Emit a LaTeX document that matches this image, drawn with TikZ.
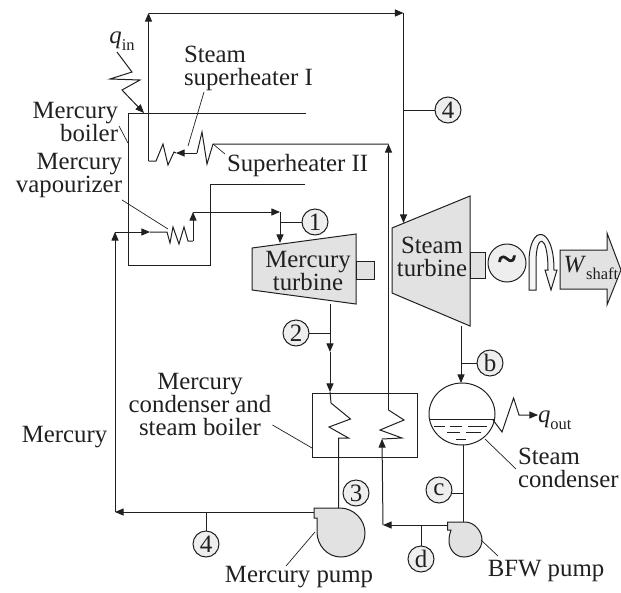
\documentclass[tikz,border=0pt]{standalone}
\usepackage{fontspec}
\setmainfont{Liberation Serif}
\newfontfamily\tildefont[FakeBold=3]{Liberation Serif}
\usepackage{tikz}
\usetikzlibrary{shapes,arrows}
\definecolor{inkGrey}{RGB}{32,32,32}
\definecolor{bodyGrey}{RGB}{226,226,226}
\newcommand{\lowtext}[1]{\raisebox{-0.6ex}{\fontsize{16.5}{16.5}\selectfont #1}}

\begin{document}
\begin{tikzpicture}[x=1pt, y=-1pt, line join=miter]%
  \tikzset{normal arrow/.style={draw,-triangle 45,line width=1pt,inkGrey}}
  \tikzset{normal line/.style={draw,line width=1pt,inkGrey}}
  \tikzset{machine body/.style={draw,line width=1pt,inkGrey,fill=bodyGrey}}
  \tikzset{state mark/.style={draw=inkGrey,fill=bodyGrey!60,circle,line width=1pt,minimum size=26pt,font=\fontsize{25}{25}\selectfont}}
  \tikzstyle{every node}=[draw=none, text=inkGrey, outer sep=0pt, inner sep=0pt, align=center, font=\fontsize{24.8}{23}\selectfont]

  \useasboundingbox (0,0) rectangle (621,592);

  % machines go first so that the lines lie on top
  \path[machine body] (252,248) -- (356,234) -- (356,304) -- (252,290) -- cycle;
  \path[machine body] (356,261) rectangle (374,279);
  \path[machine body] (392,228) -- (470,196) -- (470,326) -- (392,293) -- cycle;
  \path[machine body] (470,252) rectangle (485,278);
  \path[machine body] (314,508) -- (340,508) .. controls (354,508) and (365,520) .. (365,533) .. controls (365,548) and (353,557) .. (341,557) .. controls (327,557) and (317,545) .. (317,532) -- (317,518) -- (314,518) -- cycle;
  \path[machine body] (447.5,522) -- (465,522) .. controls (475,522) and (482,532) .. (482,540) .. controls (482,550) and (473,557) .. (464,557) .. controls (455,557) and (449,549) .. (449,541) .. controls (449,536) and (450,533) .. (451,530) -- (447.5,530) -- cycle;
  \path[machine body] (560,250) -- (607,250) -- (607,233) -- (621,270) -- (607,305) -- (607,289) -- (560,289) -- cycle;
  \path[normal line,fill=bodyGrey!35] (529,290) -- (529,262) .. controls (529,224) and (554,224) .. (554,270) -- (557,270) -- (551,290) -- (545,270) -- (548,270) .. controls (548,233) and (536,233) .. (536,262) -- (536,290) -- cycle;

  \node[state mark] at (315,222) (S1) {1};
  \node[state mark] at (296,333) (S2) {2};
  \node[state mark] at (356,493) (S3) {3};
  \node[state mark] at (448,110) (S4a) {4};
  \node[state mark] at (206,544) (S4b) {4};
  \node[state mark] at (490,363) (Sb) {b};
  \node[state mark] at (439,490) (Sc) {c};
  \node[state mark] at (421,559) (Sd) {d};
  \node[draw=inkGrey,fill=bodyGrey!60,circle,line width=1pt,minimum size=38pt,font=\fontsize{34}{34}\tildefont] at (507,263) (GEN) {\char"7E};

  % the unit outlines
  \coordinate (BOILa) at (306,113);
  \coordinate (BOILb) at (305,184);
  \path[normal line] (BOILa) -- (128,113) -- (128,265) -- (210,265) -- (210,184) -- (BOILb);
  \draw[line width=1pt,inkGrey] (312,393) rectangle (417,457);
  \node[draw=inkGrey,ellipse,line width=1pt,minimum width=66pt,minimum height=62pt] at (462,414) (DRUM) {};
  \coordinate (LVLa) at (430,419);
  \coordinate (LVLb) at (494,419);
  \path[normal line] (LVLa) -- (LVLb);
  \foreach \yy/\xa/\xb in {426/434/445, 426/450/462, 426/468/487, 432/447/460, 432/466/481, 439/456/466} {
    \draw[line width=0.8pt,inkGrey] (\xa,\yy) -- (\xb,\yy);
  }

  % steam loop
  \coordinate (TOPa) at (148.5,161);
  \coordinate (TOPb) at (148.5,13);
  \coordinate (TOPc) at (403.5,13);
  \coordinate (TOPd) at (403.5,110);
  \coordinate (TURBin) at (403.5,223);
  \coordinate (SH2a) at (213,144);
  \coordinate (SH2b) at (388.5,144);
  \coordinate (SH1a) at (197,153);
  \coordinate (SH1b) at (176,153);
  \coordinate (COILa) at (388.5,410);
  \coordinate (COILb) at (382,439);
  \coordinate (FEEDa) at (383,525);
  \coordinate (FEEDb) at (447.5,525);
  \coordinate (FEEDd) at (421,525);
  \path[normal arrow] (TOPa) -- (TOPb);
  \path[normal arrow] (TOPb) -- (TOPc);
  \path[normal arrow] (TOPc) -- (TURBin);
  \path[normal line] (TOPd) -- (S4a);
  \path[normal line] (TOPa) -- (156,161) -- (163,144) -- (168,165) -- (174,152) -- (SH1b);
  \path[normal arrow] (SH1a) -- (SH1b);
  \path[normal line] (SH1a) -- (202,132) -- (207,164) -- (SH2a) -- (SH2b);
  \path[normal arrow] (COILa) -- (SH2b);
  \path[normal line] (COILa) -- (404,420) -- (380,430) -- (402,438) -- (COILb);
  \path[normal arrow] (FEEDa) -- (COILb);
  \path[normal arrow] (FEEDb) -- (FEEDa);
  \path[normal line] (FEEDd) -- (Sd);
  \coordinate (DRUMin) at (461,383);
  \coordinate (DRUMout) at (463,445);
  \coordinate (TURBout) at (461,326);
  \coordinate (BRb) at (461,363);
  \coordinate (BRc) at (463,493);
  \coordinate (PUMPin) at (463,522);
  \path[normal arrow] (TURBout) -- (DRUMin);
  \path[normal line] (BRb) -- (Sb);
  \path[normal line] (DRUMout) -- (PUMPin);
  \path[normal line] (BRc) -- (Sc.east |- BRc);

  % mercury loop
  \coordinate (HGa) at (314,512);
  \coordinate (HGb) at (115,512);
  \coordinate (HGc) at (115,232);
  \coordinate (HGd) at (150,232);
  \coordinate (HGe) at (167,232);
  \coordinate (HGf) at (193,241);
  \coordinate (HGg) at (193,212);
  \coordinate (HGh) at (280,212);
  \coordinate (HGi) at (280,243);
  \coordinate (HGj) at (330,304);
  \coordinate (HGk) at (330,352);
  \coordinate (HGl) at (330,392);
  \coordinate (HGm) at (338.6,438);
  \coordinate (HGn) at (338.6,508);
  \coordinate (BRd) at (206,512);
  \coordinate (BR1) at (280,222);
  \coordinate (BR2) at (330,333);
  \path[normal arrow] (HGa) -- (HGb);
  \path[normal arrow] (HGb) -- (HGc);
  \path[normal arrow] (HGc) -- (HGd);
  \path[normal line] (HGd) -- (HGe) -- (170,243) -- (173,227) -- (179,244) -- (184,227) -- (188,241) -- (HGf);
  \path[normal arrow] (HGf) -- (HGg);
  \path[normal arrow] (HGg) -- (HGh);
  \path[normal arrow] (HGh) -- (HGi);
  \path[normal line] (BR1) -- (S1);
  \path[normal arrow] (HGj) -- (HGk);
  \path[normal arrow] (HGk) -- (HGl);
  \path[normal line] (BR2) -- (S2);
  \path[normal line] (HGl) -- (331,403) -- (350.5,419) -- (329,427) -- (348.5,438) -- (HGm) -- (HGn);
  \path[normal line] (BRd) -- (S4b);

  % heat in and heat out
  \node at (122,41) (QIN) {\textit{q}\lowtext{in}};
  \coordinate (QINa) at (117,52);
  \coordinate (QINb) at (144,113);
  \path[normal arrow] (QINa) -- (132,72) -- (110,79) -- (140,80) -- (122,90) -- (QINb);
  \node[anchor=west] at (538,420) (QOUT) {\textit{q}\lowtext{out}};
  \coordinate (QOUTa) at (493,420);
  \path[normal arrow] (QOUTa) -- (502,432) -- (513.6,398) -- (519,415) -- (QOUT.west |- 0,415);

  % labels and their leaders
  \node[align=right,anchor=east] at (118,122) (HGBOIL) {Mercury\\boiler};
  \node[align=right,anchor=east] at (122,176) (HGVAP) {Mercury\\vapourizer};
  \node[align=left,anchor=west] at (184,68) (SHONE) {Steam\\superheater I};
  \node[anchor=west] at (227,166) (SHTWO) {Superheater II};
  \node at (308,271) (HGTURB) {Mercury\\turbine};
  \node at (432,257) (STTURB) {Steam\\turbine};
  \node at (200,404) (COND) {Mercury\\condenser and\\steam boiler};
  \node at (64.5,437) (HGTXT) {Mercury};
  \node[align=left,anchor=west] at (518,468) (STCOND) {Steam\\condenser};
  \node at (299,577) (HGPUMP) {Mercury pump};
  \node at (546,571) (BFW) {BFW pump};
  \node at (591,268) (WSH) {\textit{W}\lowtext{shaft}};
  \foreach \xa/\ya/\xb/\yb in {119/126/128/143, 122/200/168/229, 204/92/188/146, 213/144/225/154, 272.5/425/312/448, 485/439/516/469, 315/532/286/566, 481/540/498/556} {
    \draw[line width=0.7pt,inkGrey] (\xa,\ya) -- (\xb,\yb);
  }
\end{tikzpicture}
\end{document}
